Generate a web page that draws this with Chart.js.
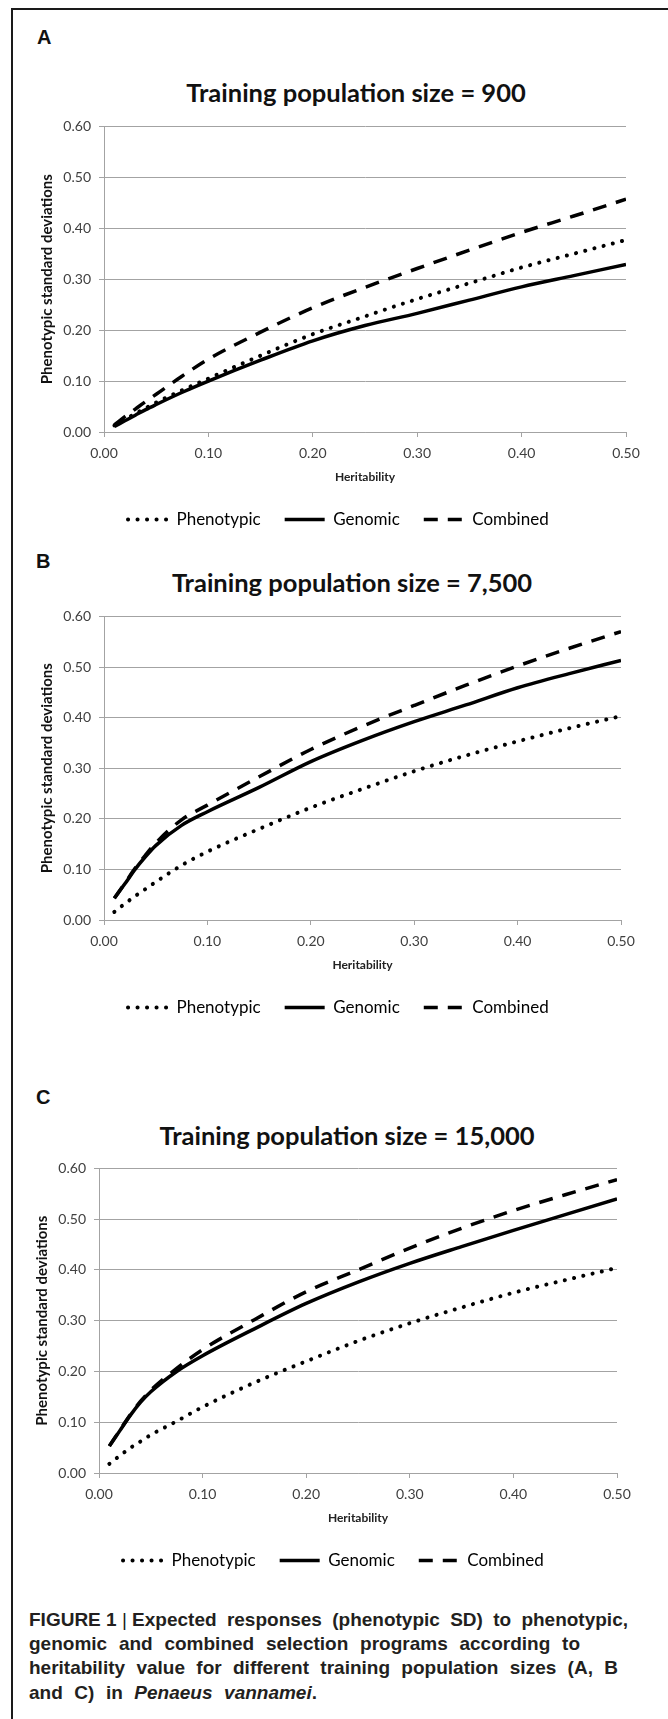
<!DOCTYPE html>
<html>
<head>
<meta charset="utf-8">
<script src="https://cdn.jsdelivr.net/npm/chart.js@4.4.0/dist/chart.umd.min.js"></script>
<style>
  html, body { margin: 0; padding: 0; background: #fff; }
  body { width: 668px; height: 1719px; position: relative; overflow: hidden; }
  #frame { position: absolute; left: 11px; top: 8px; right: 0; bottom: 0;
           border-top: 2px solid #1a1a1a; border-left: 2px solid #1a1a1a; }
  .tag { position: absolute; font: bold 20px "Liberation Sans", Arial, sans-serif; color: #111;
         line-height: 20px; transform: translateY(-50%); }
  .title { position: absolute; font: bold 25.5px Lato, sans-serif; color: #111; white-space: nowrap;
           line-height: 30px; transform: translate(-50%, -50%); }
  canvas { position: absolute; }
  .cap { position: absolute; left: 29px; height: 25px; line-height: 25px;
         font: bold 19px "Liberation Sans Narrow", "Liberation Sans", Arial, sans-serif;
         color: #231f20; text-align: justify; text-align-last: justify; }
  .cap .keep { display: inline-block; }
  .cap .bar { font-weight: normal; }
</style>
</head>
<body>
<div id="frame"></div>
<div id="panels"></div>

<div class="cap" style="top:1609px;width:599px;"><span class="keep">FIGURE 1 <span class="bar">|</span> Expected</span> responses (phenotypic SD) to phenotypic,</div>
<div class="cap" style="top:1633px;width:551px;">genomic and combined selection programs according to</div>
<div class="cap" style="top:1657px;width:589px;">heritability value for different training population sizes (A, B</div>
<div class="cap" style="top:1682px;width:288px;">and C) in <i>Penaeus</i> <i>vannamei</i>.</div>

<script>
// heritability values (x) shared by every series
const heritability = [0.01, 0.02, 0.03, 0.04, 0.05, 0.075, 0.10, 0.15, 0.20, 0.25, 0.30, 0.35, 0.40, 0.45, 0.50];
const seriesNames = ['Phenotypic', 'Genomic', 'Combined'];
const xTickLabels = ['0.00', '0.10', '0.20', '0.30', '0.40', '0.50'];
const yTickLabels = ['0.00', '0.10', '0.20', '0.30', '0.40', '0.50', '0.60'];
const trainingSizes = ['900', '7,500', '15,000'];
const panelTags = ['A', 'B', 'C'];

// A: training population 900
const phenotypicA = [0.013, 0.025, 0.036, 0.047, 0.058, 0.082, 0.105, 0.150, 0.192, 0.227, 0.261, 0.292, 0.323, 0.350, 0.377];
const genomicA    = [0.011, 0.022, 0.033, 0.044, 0.054, 0.078, 0.100, 0.141, 0.179, 0.209, 0.233, 0.259, 0.285, 0.307, 0.329];
const combinedA   = [0.014, 0.030, 0.045, 0.060, 0.074, 0.110, 0.143, 0.196, 0.244, 0.284, 0.321, 0.357, 0.392, 0.424, 0.457];

// B: training population 7,500
const phenotypicB = [0.016, 0.032, 0.047, 0.061, 0.075, 0.108, 0.135, 0.180, 0.222, 0.259, 0.294, 0.325, 0.353, 0.379, 0.403];
const genomicB    = [0.043, 0.071, 0.100, 0.125, 0.147, 0.187, 0.214, 0.262, 0.313, 0.355, 0.392, 0.425, 0.459, 0.487, 0.513];
const combinedB   = [0.043, 0.072, 0.102, 0.128, 0.152, 0.198, 0.227, 0.283, 0.337, 0.383, 0.424, 0.464, 0.502, 0.537, 0.570];

// C: training population 15,000
const phenotypicC = [0.018, 0.034, 0.049, 0.062, 0.075, 0.102, 0.130, 0.178, 0.220, 0.260, 0.295, 0.326, 0.355, 0.380, 0.404];
const genomicC    = [0.053, 0.083, 0.113, 0.139, 0.160, 0.200, 0.231, 0.284, 0.334, 0.376, 0.413, 0.446, 0.478, 0.509, 0.540];
const combinedC   = [0.053, 0.084, 0.114, 0.141, 0.163, 0.206, 0.243, 0.302, 0.357, 0.400, 0.443, 0.482, 0.517, 0.548, 0.578];

const seriesByPanel = [
  [phenotypicA, genomicA, combinedA],
  [phenotypicB, genomicB, combinedB],
  [phenotypicC, genomicC, combinedC]
];

// page layout of each panel: plot area [left, top, right, bottom], title centre, tag centre
const layouts = [
  { plot: [104, 126, 626, 432], titleX: 356, titleY: 92, tagX: 37, tagY: 37 },
  { plot: [104, 616, 621, 920], titleX: 352, titleY: 582, tagX: 36, tagY: 561 },
  { plot: [99, 1168, 617, 1473], titleX: 347, titleY: 1135, tagX: 36, tagY: 1097 }
];

const lineStyles = [
  { borderWidth: 4, borderDash: [0.1, 9.4], borderCapStyle: 'round' },
  { borderWidth: 3.5, borderDash: [], borderCapStyle: 'butt' },
  { borderWidth: 3.5, borderDash: [14, 10], borderCapStyle: 'butt' }
];

const GRID = '#a3a3a3';
const Y_SCALE_W = 84, PAD_TOP = 16, PAD_RIGHT = 34, X_SCALE_H = 55, PAD_BOTTOM = 4;

const holder = document.getElementById('panels');

// legend samples take the dataset's own line style (the default uses the point style)
function legendLabels(chart) {
  return chart.data.datasets.map((ds, i) => ({
    text: ds.label,
    datasetIndex: i,
    hidden: false,
    fillStyle: ds.borderColor,
    strokeStyle: ds.borderColor,
    lineWidth: ds.borderWidth,
    lineDash: ds.borderDash,
    lineCap: ds.borderCapStyle,
    pointStyle: 'line'
  }));
}

layouts.forEach((lay, pi) => {
  const [l, t, r, b] = lay.plot;

  const tag = document.createElement('div');
  tag.className = 'tag';
  tag.style.left = lay.tagX + 'px';
  tag.style.top = lay.tagY + 'px';
  tag.textContent = panelTags[pi];
  holder.appendChild(tag);

  const title = document.createElement('div');
  title.className = 'title';
  title.style.left = lay.titleX + 'px';
  title.style.top = lay.titleY + 'px';
  title.textContent = 'Training population size = ' + trainingSizes[pi];
  holder.appendChild(title);

  const canvas = document.createElement('canvas');
  const cw = (r - l) + Y_SCALE_W + PAD_RIGHT;
  const ch = (b - t) + PAD_TOP + X_SCALE_H + 51 + PAD_BOTTOM;
  canvas.width = cw;
  canvas.height = ch;
  canvas.style.left = (l - Y_SCALE_W) + 'px';
  canvas.style.top = (t - PAD_TOP) + 'px';
  canvas.style.width = cw + 'px';
  canvas.style.height = ch + 'px';
  holder.appendChild(canvas);

  const datasets = seriesByPanel[pi].map((vals, si) => ({
    label: seriesNames[si],
    data: vals.map((v, i) => ({ x: heritability[i], y: v })),
    borderColor: '#000',
    backgroundColor: '#000',
    borderWidth: lineStyles[si].borderWidth,
    borderDash: lineStyles[si].borderDash,
    borderCapStyle: lineStyles[si].borderCapStyle,
    pointRadius: 0,
    cubicInterpolationMode: 'monotone',
    fill: false
  }));

  new Chart(canvas, {
    type: 'line',
    data: { datasets },
    options: {
      responsive: false,
      animation: false,
      devicePixelRatio: 1,
      layout: { padding: { top: PAD_TOP, right: PAD_RIGHT, bottom: PAD_BOTTOM, left: 0 } },
      plugins: {
        tooltip: { enabled: false },
        legend: {
          position: 'bottom',
          align: 'start',
          fullSize: false,
          labels: {
            usePointStyle: true,
            pointStyle: 'line',
            pointStyleWidth: 40,
            padding: 24,
            color: '#222',
            font: { family: 'Lato', size: 17 },
            generateLabels: legendLabels
          }
        }
      },
      scales: {
        x: {
          type: 'linear',
          min: 0,
          max: 0.5,
          afterFit: s => { s.height = X_SCALE_H; },
          ticks: {
            stepSize: 0.1,
            padding: 8,
            maxRotation: 0,
            color: '#404040',
            font: { family: 'Lato', size: 14 },
            callback: v => xTickLabels[Math.round(v * 10)]
          },
          grid: { drawOnChartArea: false, drawTicks: true, tickLength: 5, color: GRID },
          border: { color: GRID, width: 1 },
          title: {
            display: true,
            text: 'Heritability',
            color: '#222',
            font: { family: 'Lato', size: 12, weight: 'bold' },
            padding: { top: 0, bottom: 3 }
          }
        },
        y: {
          type: 'linear',
          min: 0,
          max: 0.6,
          afterFit: s => { s.width = Y_SCALE_W; },
          ticks: {
            stepSize: 0.1,
            padding: 8,
            color: '#404040',
            font: { family: 'Lato', size: 14 },
            callback: v => yTickLabels[Math.round(v * 10)]
          },
          grid: { color: GRID, tickLength: 5 },
          border: { color: GRID, width: 1 },
          title: {
            display: true,
            text: 'Phenotypic standard deviations',
            color: '#111',
            font: { family: 'Lato', size: 15, weight: 'bold' },
            padding: { top: 18, bottom: 0 }
          }
        }
      }
    }
  });
});
</script>
</body>
</html>
